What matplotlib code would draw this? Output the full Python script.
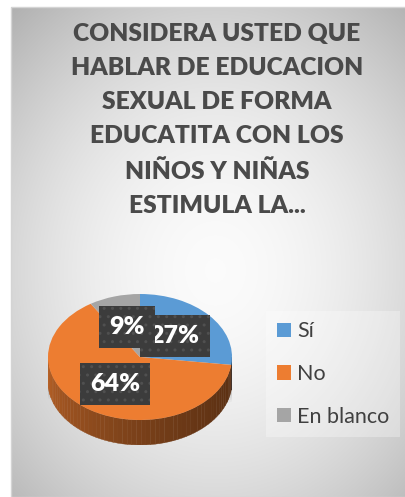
import numpy as np
import matplotlib.pyplot as plt
from matplotlib.patches import Patch, Polygon, Rectangle, Ellipse
from matplotlib.colors import to_rgb

# Datos
labels = ['Sí', 'No', 'En blanco']
values = [27, 64, 9]
colors = ['#5b9bd5', '#ed7d31', '#a5a5a5']
title = ('CONSIDERA USTED QUE\nHABLAR DE EDUCACION\nSEXUAL DE FORMA\n'
         'EDUCATITA CON LOS\nNIÑOS Y NIÑAS\nESTIMULA LA...')

plt.rcParams['font.family'] = ['Lato', 'DejaVu Sans']
W, H = 406, 497
fig = plt.figure(figsize=(W/100, H/100), dpi=100)

# fondo con degradado radial
bg = fig.add_axes([0, 0, 1, 1])
bg.set_xlim(0, W)
bg.set_ylim(H, 0)
bg.axis('off')
yy, xx = np.mgrid[7:H:1.0, 11:W:1.0]
d = np.sqrt(((xx-215)/260)**2 + ((yy-270)/300)**2)
g = 0.985 - 0.22*np.clip(d, 0, 1.2)**1.8
bg.imshow(np.dstack([g, g, g]), extent=(11, W, H, 7), aspect='auto', zorder=0)
bg.add_patch(Rectangle((11, 7), W-11, H-7, fill=False, ec='#d4d4d4', lw=1, zorder=1))

fig.text(217/W, 1-120/H, title, ha='center', va='center', fontsize=17.7,
         fontweight='heavy', color='#4a4a4a', linespacing=1.68)

# pastel
x0, x1, y0, y1 = 48, 232, 294, 445
ax = fig.add_axes([x0/W, 1-y1/H, (x1-x0)/W, (y1-y0)/H])
ry = 63.0
thick = 25/ry

# sombra
for k in range(6):
    ax.add_patch(Ellipse((0.04, -thick-0.05), 2.1+0.05*k, 2*(0.25+0.04*k),
                         fc='#000000', alpha=0.03, lw=0, zorder=0))

wedges, texts, autotexts = ax.pie(values, colors=colors, startangle=90,
                                  counterclock=False, radius=1,
                                  autopct=lambda p: f'{p:.0f}%', pctdistance=0.5,
                                  wedgeprops=dict(linewidth=0, zorder=3),
                                  textprops=dict(color='white', fontsize=18,
                                                 fontweight='heavy'))
# lado del pastel
start = 90.0
total = sum(values)
for v, c in zip(values, colors):
    end = start - 360.0*v/total
    a_hi, a_lo = min(start, 0.0), max(end, -180.0)
    if a_hi > a_lo:
        angs = np.linspace(a_hi, a_lo, 60)
        for a, b in zip(angs[:-1], angs[1:]):
            ra, rb = np.radians(a), np.radians(b)
            pts = [(np.cos(ra), np.sin(ra)), (np.cos(rb), np.sin(rb)),
                   (np.cos(rb), np.sin(rb)-thick), (np.cos(ra), np.sin(ra)-thick)]
            f = 0.38 + 0.4*((-(a+b)/2)/180.0)**1.6
            col = tuple(np.array(to_rgb(c))*f)
            ax.add_patch(Polygon(pts, closed=True, fc=col, ec=col, lw=0.3, zorder=2))
    start = end

ax.set_aspect('auto')
ax.set_xlim(-1, 1)
ax.set_ylim(-1-thick, 1)
ax.axis('off')

for t in autotexts:
    t.set_zorder(5)
    t.set_bbox(dict(boxstyle='square,pad=0.4', fc='#3c3c3c', ec='#505050',
                    lw=0, hatch='..'))

handles = [Patch(facecolor=c, edgecolor='none') for c in colors]
leg = fig.legend(handles, labels, loc='center left',
                 bbox_to_anchor=(266/W, 1-374/H), fontsize=15.5, frameon=True,
                 handlelength=0.65, handleheight=0.65, handletextpad=0.3,
                 labelspacing=1.05, borderpad=0.5, borderaxespad=0,
                 fancybox=False)
leg.get_frame().set_facecolor('white')
leg.get_frame().set_alpha(0.3)
leg.get_frame().set_edgecolor('none')
for t in leg.get_texts():
    t.set_color('#404040')

fig.savefig('out.png', dpi=100)
